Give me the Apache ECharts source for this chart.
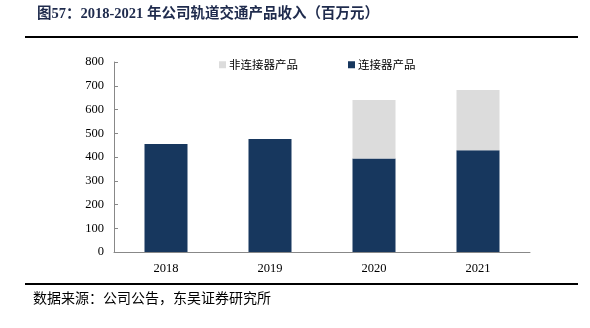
<!DOCTYPE html>
<html><head><meta charset="utf-8">
<script src="https://cdn.jsdelivr.net/npm/echarts@6/dist/echarts.min.js"></script>
<style>html,body{margin:0;padding:0;background:#fff}#c{width:590px;height:328px}</style>
</head><body><div id="c"></div>
<script>
const categories = ['2018', '2019', '2020', '2021'];
const connector = [455, 476, 394, 428];
const nonConnector = [0, 0, 246, 254];
const seriesNames = ['非连接器产品', '连接器产品'];
const titleText = '图57：2018-2021 年公司轨道交通产品收入（百万元）';
const sourceText = '数据来源：公司公告，东吴证券研究所';

const chart = echarts.init(document.getElementById('c'));
const serif = '"Liberation Serif", "Noto Sans CJK SC", serif';
chart.setOption({
  animation: false,
  backgroundColor: '#fff',
  graphic: [
    { type: 'text', left: 37, top: 7, style: { text: titleText, font: 'bold 14.5px "Liberation Serif", "Noto Sans CJK SC"', fill: '#1f2b4d' } },
    { type: 'rect', shape: { x: 25, y: 36, width: 553, height: 2 }, style: { fill: '#000' } },
    { type: 'rect', shape: { x: 25, y: 283, width: 553, height: 2 }, style: { fill: '#000' } },
    { type: 'text', left: 33, top: 291, style: { text: sourceText, font: '14px "Noto Sans CJK SC"', fill: '#000' } }
  ],
  legend: {
    top: 54, left: 214, itemWidth: 7, itemHeight: 7, itemGap: 50,
    textStyle: { fontSize: 11.5, fontFamily: '"Noto Sans CJK SC"', color: '#000', padding: [0,0,0,-2] },
    data: seriesNames.map(n => ({ name: n, icon: 'rect' }))
  },
  grid: { left: 114, right: 60, top: 62, bottom: 76 },
  xAxis: {
    type: 'category', data: categories,
    axisLine: { lineStyle: { color: '#888' } },
    axisTick: { inside: true, length: 4, lineStyle: { color: '#888' } },
    axisLabel: { margin: 10, color: '#000', fontSize: 12.5, fontFamily: serif }
  },
  yAxis: {
    type: 'value', min: 0, max: 800, interval: 100,
    axisLine: { show: true, lineStyle: { color: '#888' } },
    axisTick: { show: true, inside: true, length: 4, lineStyle: { color: '#888' } },
    splitLine: { show: false },
    axisLabel: { margin: 10, color: '#000', fontSize: 12.5, fontFamily: serif }
  },
  series: [
    { name: seriesNames[1], type: 'bar', stack: 's', data: connector, barWidth: 43, itemStyle: { color: '#17375e' } },
    { name: seriesNames[0], type: 'bar', stack: 's', data: nonConnector, barWidth: 43, itemStyle: { color: '#dcdcdc' } }
  ]
});
</script></body></html>
